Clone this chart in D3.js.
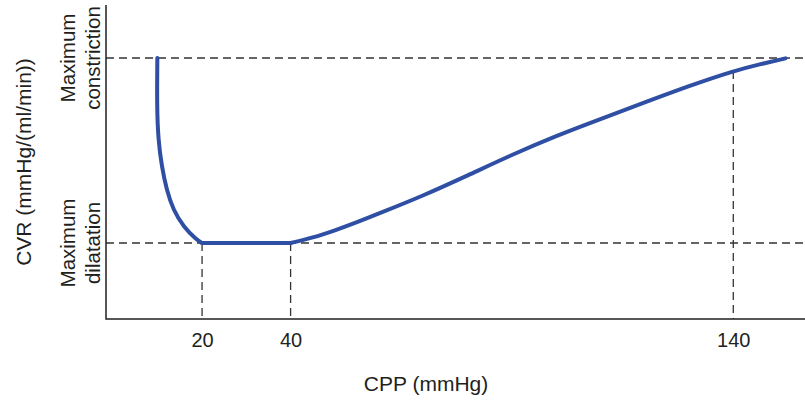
<!DOCTYPE html>
<html>
<head>
<meta charset="utf-8">
<script src="https://cdn.jsdelivr.net/npm/d3@7"></script>
<style>
	body { margin: 0; background: #fff; }
	text { font-family: "Liberation Sans", Arial, sans-serif; fill: #231f20; }
	.guide { stroke: #333; stroke-width: 1.3; stroke-dasharray: 8,5; fill: none; }
	.axis { stroke: #231f20; stroke-width: 1.5; fill: none; }
	.curve { stroke: #2e4fa3; stroke-width: 4; fill: none; stroke-linejoin: round; stroke-linecap: round; }
</style>
</head>
<body>
<div class="container"></div>
<script>
// CPP (mmHg) vs relative CVR (0 = maximum dilatation, 1 = maximum constriction)
// low-pressure branch, read from the bottom of the plateau upward
var lowCpp = [20, 18.8, 15.8, 13.5, 12.0, 10.9, 10.1, 9.8, 9.9];
var lowCvr = [0, 0.016, 0.088, 0.178, 0.286, 0.412, 0.557, 0.737, 1.0];
// plateau of maximum dilatation
var flatCpp = [20, 40];
var flatCvr = [0, 0];
// high-pressure branch
var highCpp = [40, 45, 50, 55, 60, 70, 80, 90, 100, 110, 120, 130, 140, 146, 151.8];
var highCvr = [0, 0.028, 0.068, 0.112, 0.160, 0.256, 0.365, 0.477, 0.580, 0.670, 0.760, 0.849, 0.930, 0.966, 0.998];

var xTicks = [20, 40, 140];
var xGuides = [20, 40, 140];
var yGuides = [0, 1];
var yLabels = [['Maximum', 'dilatation'], ['Maximum', 'constriction']];
var xTitle = 'CPP (mmHg)';
var yTitle = 'CVR (mmHg/(ml/min))';

var WIDTH = 805,
	HEIGHT = 400,
	LEFT = 106,
	TOP = 5,
	BOTTOM = 319;

var xScale = d3.scaleLinear()
	.domain([-1.7, 156.2])
	.range([LEFT, WIDTH]);

var yScale = d3.scaleLinear()
	.domain([0, 1])
	.range([243, 58]);

// cvr on the curve at a given pressure (for where a guide meets the curve)
function cvrAt(p) {
	if (p <= 40) return 0;
	var i = d3.bisectLeft(highCpp, p);
	var t = (p - highCpp[i-1]) / (highCpp[i] - highCpp[i-1]);
	return highCvr[i-1] + t * (highCvr[i] - highCvr[i-1]);
}

var svg = d3.select('.container').append('svg')
	.attr('width', WIDTH)
	.attr('height', HEIGHT);

// dashed guides
svg.selectAll('.hguide')
	.data(yGuides).enter()
	.append('line')
	.attr('class', 'guide')
	.attr('x1', LEFT).attr('x2', WIDTH)
	.attr('y1', function(d) { return yScale(d); })
	.attr('y2', function(d) { return yScale(d); });

svg.selectAll('.vguide')
	.data(xGuides).enter()
	.append('line')
	.attr('class', 'guide')
	.attr('x1', function(d) { return xScale(d); })
	.attr('x2', function(d) { return xScale(d); })
	.attr('y1', function(d) { return yScale(cvrAt(d)); })
	.attr('y2', BOTTOM);

// axes
var xAxis = d3.axisBottom(xScale)
	.tickValues(xTicks)
	.tickSize(0)
	.tickPadding(14);

var xAxisGroup = svg.append('g')
	.attr('transform', 'translate(0,' + BOTTOM + ')')
	.call(xAxis);
xAxisGroup.select('.domain').remove();
xAxisGroup.selectAll('text')
	.style('font-size', '20px')
	.attr('fill', '#231f20');

svg.append('path')
	.attr('class', 'axis')
	.attr('d', 'M' + LEFT + ',' + TOP + 'V' + BOTTOM + 'H' + WIDTH);

// curve, drawn as three joined pieces
function branch(xs, ys, curve) {
	var line = d3.line()
		.x(function(d, i) { return xScale(xs[i]); })
		.y(function(d, i) { return yScale(ys[i]); })
		.curve(curve);
	svg.append('path')
		.datum(xs)
		.attr('class', 'curve')
		.attr('d', line);
}
branch(lowCpp, lowCvr, d3.curveBasis);
branch(flatCpp, flatCvr, d3.curveLinear);
branch(highCpp, highCvr, d3.curveBasis);

// y side labels
yGuides.forEach(function(g, k) {
	var t = svg.append('text')
		.attr('transform', 'translate(75,' + yScale(g) + ') rotate(-90)')
		.attr('text-anchor', 'middle')
		.style('font-size', '20.5px');
	t.append('tspan').attr('x', 0).attr('y', 0).text(yLabels[k][0]);
	t.append('tspan').attr('x', 0).attr('y', 25).text(yLabels[k][1]);
});

// titles
svg.append('text')
	.attr('x', 426)
	.attr('y', 391)
	.attr('text-anchor', 'middle')
	.style('font-size', '21px')
	.text(xTitle);

svg.append('text')
	.attr('transform', 'translate(31,162) rotate(-90)')
	.attr('text-anchor', 'middle')
	.style('font-size', '21px')
	.text(yTitle);
</script>
</body>
</html>
